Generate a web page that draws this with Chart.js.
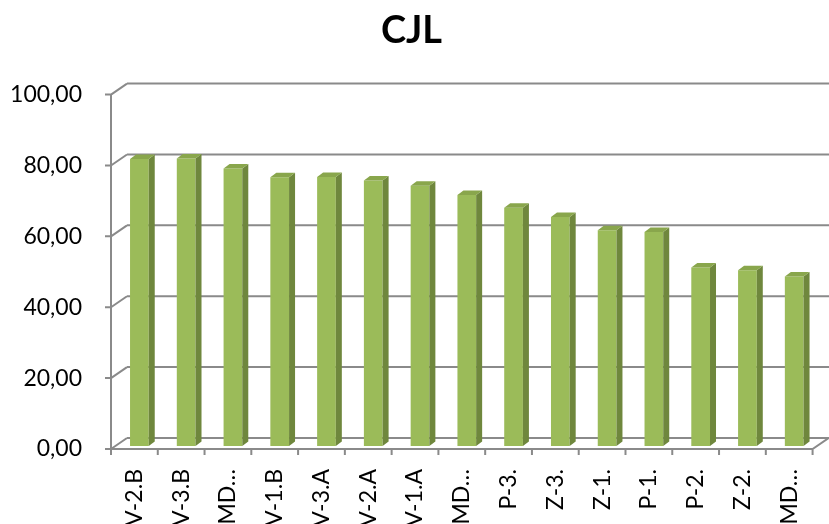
<!DOCTYPE html>
<html>
<head>
<meta charset="utf-8">
<script src="https://cdn.jsdelivr.net/npm/chart.js@4.4.1/dist/chart.umd.min.js"></script>
<style>
  html, body { margin: 0; padding: 0; background: #fff; }
  #wrap { width: 829px; height: 524px; }
</style>
</head>
<body>
<div id="wrap"><canvas id="cjlChart"></canvas></div>
<script>
// ── data ─────────────────────────────────────────────
const categories = ['V-2.B', 'V-3.B', 'MD…', 'V-1.B', 'V-3.A', 'V-2.A', 'V-1.A',
                    'MD…', 'P-3.', 'Z-3.', 'Z-1.', 'P-1.', 'P-2.', 'Z-2.', 'MD…'];
const cjlValues  = [81.0, 81.1, 78.3, 75.8, 75.9, 74.9, 73.4,
                    70.8, 67.2, 64.6, 60.9, 60.4, 50.4, 49.6, 47.8];
const yTicks     = [0, 20, 40, 60, 80, 100];

// ── 3d look settings ─────────────────────────────────
const WALL_DX = 16, WALL_DY = -11;   // back wall offset
const BAR_DX = 5,  BAR_DY = -3;      // bars sit a bit behind the front edge
const SIDE_DX = 6, SIDE_DY = -4.5;   // bar depth
const GRID = '#8a8a8a';

const fmt = v => v.toFixed(2).replace('.', ',');

// draws the walls, floor and ticks like an Excel 3-D column chart
const wallPlugin = {
  id: 'walls',
  beforeDatasetsDraw(chart) {
    const ctx = chart.ctx;
    const y = chart.scales.y;
    const left = chart.chartArea.left, right = chart.chartArea.right;
    ctx.save();
    ctx.strokeStyle = GRID;
    ctx.lineWidth = 2;
    ctx.beginPath();
    yTicks.forEach(v => {
      const py = y.getPixelForValue(v);
      // back wall line
      ctx.moveTo(left + WALL_DX, py + WALL_DY);
      ctx.lineTo(right + WALL_DX + 20, py + WALL_DY);
      // side wall diagonal
      ctx.moveTo(left, py);
      ctx.lineTo(left + WALL_DX, py + WALL_DY);
      // tick mark
      ctx.moveTo(left - 6, py);
      ctx.lineTo(left, py);
    });
    // front vertical axis
    const y0 = y.getPixelForValue(0), y100 = y.getPixelForValue(100);
    ctx.moveTo(left, y100);
    ctx.lineTo(left, y0);
    // floor front edge and right diagonal
    ctx.moveTo(left, y0);
    ctx.lineTo(right, y0);
    ctx.lineTo(right + WALL_DX, y0 + WALL_DY);
    // category ticks
    for (let i = 0; i <= categories.length; i++) {
      const px = left + (right - left) * i / categories.length;
      ctx.moveTo(px, y0);
      ctx.lineTo(px, y0 + 6);
    }
    ctx.stroke();
    ctx.restore();

    // shift the bars back a little
    ctx.save();
    ctx.translate(BAR_DX, BAR_DY);
  },
  afterDatasetsDraw(chart) {
    const ctx = chart.ctx;
    chart.getDatasetMeta(0).data.forEach(bar => {
      const p = bar.getProps(['x', 'y', 'base', 'width'], true);
      const l = p.x - p.width / 2, r = p.x + p.width / 2;
      // side face
      ctx.fillStyle = '#6f873d';
      ctx.beginPath();
      ctx.moveTo(r, p.y);
      ctx.lineTo(r + SIDE_DX, p.y + SIDE_DY);
      ctx.lineTo(r + SIDE_DX, p.base + SIDE_DY);
      ctx.lineTo(r, p.base);
      ctx.closePath();
      ctx.fill();
      // top face
      ctx.fillStyle = '#89a64c';
      ctx.beginPath();
      ctx.moveTo(l, p.y);
      ctx.lineTo(l + SIDE_DX, p.y + SIDE_DY);
      ctx.lineTo(r + SIDE_DX, p.y + SIDE_DY);
      ctx.lineTo(r, p.y);
      ctx.closePath();
      ctx.fill();
    });
    ctx.restore();
  }
};

new Chart(document.getElementById('cjlChart'), {
  type: 'bar',
  data: {
    labels: categories,
    datasets: [{
      label: 'CJL',
      data: cjlValues,
      backgroundColor: '#9bbb59',
      borderWidth: 0,
      categoryPercentage: 1,
      barPercentage: 0.4
    }]
  },
  options: {
    responsive: true,
    maintainAspectRatio: false,
    animation: false,
    layout: { padding: { left: 0, right: 6, top: 0, bottom: 0 } },
    plugins: {
      legend: { display: false },
      tooltip: { enabled: false },
      title: {
        display: true,
        text: 'CJL',
        color: '#000',
        font: { family: 'Lato', size: 38, weight: 'bold' },
        padding: { top: 8, bottom: 41 }
      }
    },
    scales: {
      x: {
        grid: { display: false },
        border: { display: false },
        ticks: {
          color: '#000',
          font: { family: 'Lato', size: 23 },
          minRotation: 90,
          maxRotation: 90,
          autoSkip: false,
          padding: 12
        },
        afterFit(scale) { scale.height = 75; }
      },
      y: {
        min: 0,
        max: 100,
        afterBuildTicks(scale) { scale.ticks = yTicks.map(v => ({ value: v })); },
        grid: { display: false },
        border: { display: false },
        ticks: {
          color: '#000',
          font: { family: 'Lato', size: 23 },
          padding: 21,
          callback: v => fmt(v)
        },
        afterFit(scale) { scale.width = 111; }
      }
    }
  },
  plugins: [wallPlugin]
});
</script>
</body>
</html>
